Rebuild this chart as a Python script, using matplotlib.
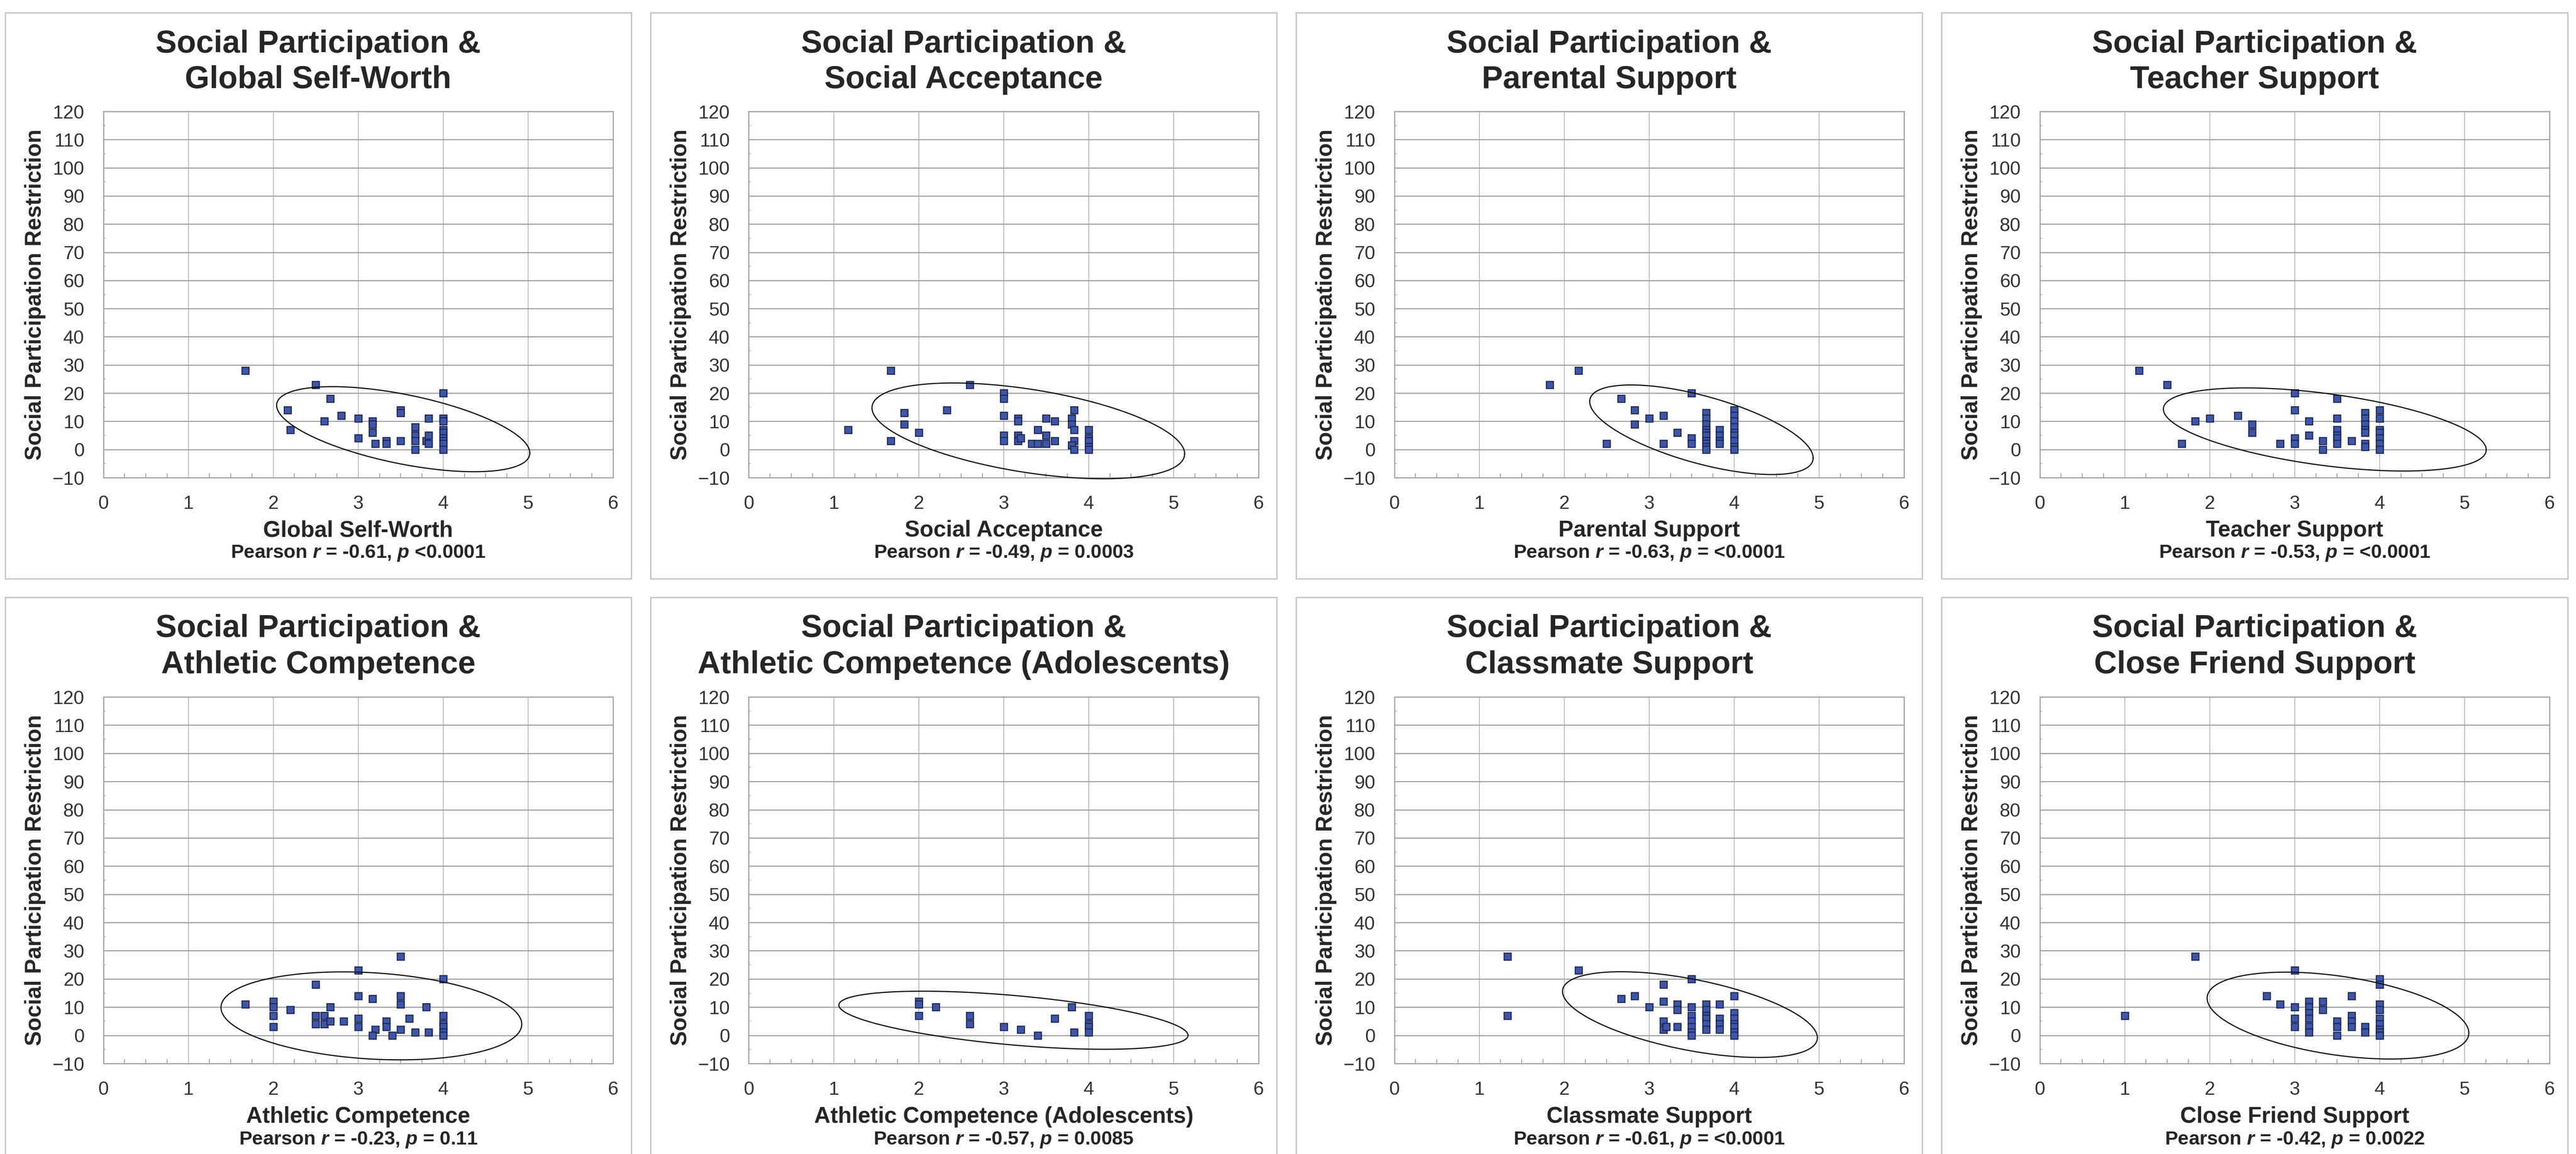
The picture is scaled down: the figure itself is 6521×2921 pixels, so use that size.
import numpy as np
import matplotlib
matplotlib.use("Agg")
import matplotlib.pyplot as plt
from matplotlib.patches import Rectangle

plt.rcParams['font.family'] = ['Liberation Sans', 'DejaVu Sans']
plt.rcParams['mathtext.fontset'] = 'custom'
plt.rcParams['mathtext.it'] = 'Liberation Sans:italic:bold'
plt.rcParams['mathtext.rm'] = 'Liberation Sans:bold'
plt.rcParams['mathtext.bf'] = 'Liberation Sans:bold'

# ---------------- data ----------------
titles_line2 = ["Global Self-Worth", "Social Acceptance", "Parental Support", "Teacher Support",
                "Athletic Competence", "Athletic Competence (Adolescents)", "Classmate Support",
                "Close Friend Support"]
xlabels = ["Global Self-Worth", "Social Acceptance", "Parental Support", "Teacher Support",
           "Athletic Competence", "Athletic Competence (Adolescents)", "Classmate Support",
           "Close Friend Support"]
stats = [r"Pearson $r$ = -0.61, $p$ <0.0001",
         r"Pearson $r$ = -0.49, $p$ = 0.0003",
         r"Pearson $r$ = -0.63, $p$ = <0.0001",
         r"Pearson $r$ = -0.53, $p$ = <0.0001",
         r"Pearson $r$ = -0.23, $p$ = 0.11",
         r"Pearson $r$ = -0.57, $p$ = 0.0085",
         r"Pearson $r$ = -0.61, $p$ = <0.0001",
         r"Pearson $r$ = -0.42, $p$ = 0.0022"]

x_gsw = [1.67, 2.5, 2.67, 2.17, 2.8, 2.6, 2.2, 3.0, 3.0, 3.17, 3.17, 3.17, 3.2, 3.33, 3.33,
         3.5, 3.5, 3.5, 3.67, 3.67, 3.67, 3.67, 3.8, 3.83, 3.83, 3.83, 4, 4, 4, 4, 4, 4, 4, 4, 4]
y_gsw = [28, 23, 18, 14, 12, 10, 7, 11, 4, 10, 9, 6, 2, 3, 2,
         14, 13, 3, 8, 5, 3, 0, 3, 2, 11, 5, 20, 11, 10, 7, 6, 4, 3, 2, 0]

x_sa = [1.67, 2.6, 3, 3, 3, 3, 3, 2.33, 1.83, 1.83, 2, 1.17, 1.67, 3.17, 3.17, 3.17, 3.17, 3.2,
        3.33, 3.4, 3.4, 3.5, 3.5, 3.5, 3.6, 3.6, 3.83, 3.8, 3.8, 3.83, 3.83, 3.8, 3.83,
        4, 4, 4, 4, 4]
y_sa = [28, 23, 20, 18, 12, 5, 3, 14, 13, 9, 6, 7, 3, 11, 10, 5, 3, 4,
        2, 2, 7, 11, 5, 2, 10, 3, 14, 11, 9, 7, 3, 1.5, 0,
        7, 4, 3, 1, 0]

x_ps = [2.17, 1.83, 2.67, 3.5, 2.83, 2.83, 3, 3.17, 3.33, 2.5, 3.17, 3.5, 3.5,
        3.67, 3.67, 3.67, 3.67, 3.67, 3.67, 3.67, 3.67, 3.67, 3.67,
        3.83, 3.83, 3.83, 3.83,
        4, 4, 4, 4, 4, 4, 4, 4, 4]
y_ps = [28, 23, 18, 20, 14, 9, 11, 12, 6, 2, 2, 4, 2,
        13, 11, 9, 7, 6, 5, 3, 2, 1, 0,
        7, 5, 3, 2,
        14, 12, 10, 8, 6, 5, 3, 1, 0]

x_ts = [1.17, 1.5, 1.67, 1.83, 2, 2.33, 2.5, 2.5, 2.83, 3, 3, 3, 3, 3.17, 3.17, 3.33, 3.33,
        3.5, 3.5, 3.5, 3.5, 3.5, 3.5, 3.67, 3.83, 3.83, 3.83, 3.83, 3.83, 3.83, 3.83,
        4, 4, 4, 4, 4, 4, 4]
y_ts = [28, 23, 2, 10, 11, 12, 9, 6, 2, 20, 14, 4, 2, 10, 5, 3, 0,
        18, 11, 7, 5, 4, 2, 3, 13, 11, 9, 7, 6, 2, 1,
        14, 11, 7, 6, 4, 2, 0]

x_ac = [3.5, 3, 4, 2.5, 3, 3.17, 3.5, 3.5, 1.67, 2, 2, 2.2, 2.67, 3.8, 2, 2, 2.5, 2.6, 2.5,
        2.6, 2.67, 2.83, 3, 3, 3.2, 3.17, 3.33, 3.33, 3.4, 3.5, 3.6, 3.67, 3.83,
        4, 4, 4, 4, 4]
y_ac = [28, 23, 20, 18, 14, 13, 14, 11, 11, 12, 10, 9, 10, 10, 7, 3, 7, 7, 4,
        4, 5, 5, 6, 3, 2, 0, 5, 3, 0, 2, 6, 1, 1,
        7, 4, 3, 1, 0]

x_aca = [2, 2, 2, 2.2, 2.6, 2.6, 3, 3.2, 3.4, 3.6, 3.8, 3.83, 4, 4, 4, 4]
y_aca = [12, 11, 7, 10, 7, 4, 3, 2, 0, 6, 10, 1, 7, 4, 3, 1]

x_cs = [1.33, 1.33, 2.17, 3.5, 3.17, 2.83, 2.67, 3.17, 3, 3.33, 3.33, 3.5,
        3.67, 3.67, 3.67, 3.67, 3.67, 3.67, 3.83, 3.83, 3.83, 3.83,
        4, 4, 4, 4, 4, 4, 4, 3.5, 3.5, 3.5, 3.5, 3.5, 3.17, 3.17, 3.2, 3.33]
y_cs = [28, 7, 23, 20, 18, 14, 13, 12, 10, 11, 9, 10,
        11, 9, 7, 6, 4, 2, 11, 6, 4, 2,
        14, 8, 6, 4, 3, 1, 0, 7, 5, 3, 1, 0, 5, 2, 3, 3]

x_cfs = [1, 1.83, 3, 4, 4, 2.67, 2.83, 3, 3, 3, 3.17, 3.17, 3.17, 3.17, 3.17, 3.17,
         3.33, 3.33, 3.67, 3.67, 3.67, 3.67, 3.5, 3.5, 3.5, 3.83, 3.83,
         4, 4, 4, 4, 4, 4, 4]
y_cfs = [7, 28, 23, 20, 18, 14, 11, 10, 6, 3, 12, 10, 8, 6, 3, 1,
         12, 9, 14, 7, 5, 3, 5, 3, 0, 3, 1,
         11, 9, 6, 4, 2, 1, 0]

xs_all = [x_gsw, x_sa, x_ps, x_ts, x_ac, x_aca, x_cs, x_cfs]
ys_all = [y_gsw, y_sa, y_ps, y_ts, y_ac, y_aca, y_cs, y_cfs]

# ellipse: centre x, centre y, half-extent x, half-extent y, tilt correlation
ell_cx = [3.53, 3.29, 3.615, 3.355, 3.155, 3.115, 3.48, 3.51]
ell_cy = [7.2, 6.6, 7.0, 7.1, 6.9, 5.35, 7.35, 7.0]
ell_hx = [1.49, 1.84, 1.315, 1.90, 1.77, 2.055, 1.50, 1.54]
ell_hy = [15.1, 17.0, 15.9, 14.75, 15.6, 10.3, 15.2, 15.4]
ell_r = [-0.56, -0.48, -0.63, -0.49, -0.19, -0.52, -0.54, -0.40]

xticks = [0, 1, 2, 3, 4, 5, 6]
yticks = list(range(-10, 121, 10))

# ---------------- layout (pixels) ----------------
W, H = 6521, 2921
DPI = 300
fig = plt.figure(figsize=(W / DPI, H / DPI), dpi=DPI)
fig.patch.set_facecolor('white')

def fx(px):
    return px / W

def fy(py):
    return 1 - py / H

panel_left0, panel_pitch, panel_w = 13, 1634, 1585
row_top = [32, 1512]
row_bot = [1465, 2960]
title_base = [(133, 223), (1612, 1704)]
plot_top = [282, 1764]
plot_bot = [1209, 2692]
plot_off, plot_w = 248.5, 1290.5
xlab_y = [1343, 2827]
stat_y = [1400, 2885]

txt_col = '#262626'
grid_col = '#a4a4a4'

for i in range(8):
    r, c = divmod(i, 4)
    bl = panel_left0 + c * panel_pitch
    # panel border
    fig.patches.append(Rectangle((fx(bl), fy(row_bot[r])), panel_w / W,
                                 (row_bot[r] - row_top[r]) / H, transform=fig.transFigure,
                                 fill=False, edgecolor='#c4c4c4', linewidth=0.8, zorder=0))
    pcx = bl + panel_w / 2
    fig.text(fx(pcx), fy(title_base[r][0]), "Social Participation &", ha='center', va='baseline',
             fontsize=19.2, fontweight='bold', color=txt_col)
    fig.text(fx(pcx), fy(title_base[r][1]), titles_line2[i], ha='center', va='baseline',
             fontsize=19.2, fontweight='bold', color=txt_col)

    pl = bl + plot_off
    ax = fig.add_axes([fx(pl), fy(plot_bot[r]), plot_w / W, (plot_bot[r] - plot_top[r]) / H])
    ax.set_xlim(0, 6)
    ax.set_ylim(-10, 120)
    ax.set_xticks(xticks)
    ax.set_yticks(yticks)
    ax.set_xticks([v for v in np.arange(0, 6.01, 0.25) if abs(v - round(v)) > 1e-6], minor=True)
    ax.set_yticks(list(range(-5, 120, 10)), minor=True)
    ax.tick_params(axis='both', which='major', length=0, labelsize=11.5, labelcolor='#333333')
    ax.tick_params(axis='x', which='major', pad=10.5)
    ax.tick_params(axis='y', which='major', pad=11.5)
    ax.tick_params(axis='x', which='minor', direction='in', length=2.6, width=0.5, color='#9a9a9a')
    ax.tick_params(axis='y', which='minor', direction='in', length=1.5, width=0.5, color='#b0b0b0')
    ax.grid(True, axis='y', which='major', color=grid_col, linewidth=0.7)
    ax.grid(True, axis='x', which='major', color='#b0b0b0', linewidth=0.45)
    ax.set_axisbelow(True)
    for s in ax.spines.values():
        s.set_color(grid_col)
        s.set_linewidth(0.7)

    ax.plot(xs_all[i], ys_all[i], linestyle='none', marker='s', markersize=4.4,
            markerfacecolor='#3d56a8', markeredgecolor='#1b2350', markeredgewidth=0.6, zorder=3)

    t = np.linspace(0, 2 * np.pi, 400)
    rr = ell_r[i]
    ex = ell_cx[i] + ell_hx[i] * np.cos(t)
    ey = ell_cy[i] + ell_hy[i] * (rr * np.cos(t) + np.sqrt(1 - rr ** 2) * np.sin(t))
    ax.plot(ex, ey, color='#111111', linewidth=0.7, zorder=4, clip_on=False)

    pcx_plot = pl + plot_w / 2
    fig.text(fx(pcx_plot), fy(xlab_y[r]), xlabels[i], ha='center', va='center',
             fontsize=13.7, fontweight='bold', color=txt_col)
    fig.text(fx(pcx_plot), fy(stat_y[r]), stats[i], ha='center', va='center',
             fontsize=11.8, fontweight='bold', color=txt_col)
    fig.text(fx(bl + 76), fy((plot_top[r] + plot_bot[r]) / 2), "Social Participation Restriction",
             ha='center', va='center', rotation=90, fontsize=13.6, fontweight='bold', color=txt_col)

fig.savefig("out.png", dpi=DPI, facecolor='white')
